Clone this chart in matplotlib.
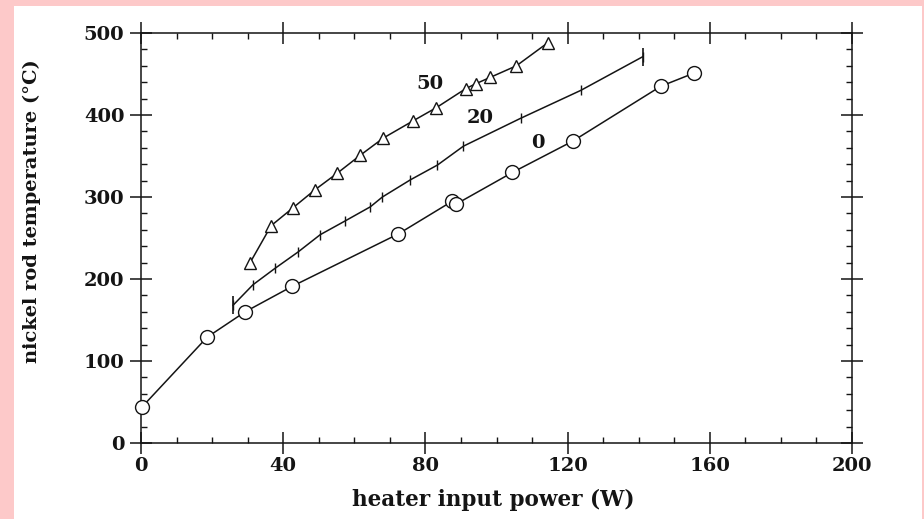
import numpy as np
import matplotlib
matplotlib.use("Agg")
import matplotlib.pyplot as plt
from matplotlib.patches import Rectangle
from matplotlib.ticker import MultipleLocator

# heater input power (W) vs nickel rod temperature (C), three series
x0 = [0.3, 18.6, 29.3, 42.5, 72.4, 87.6, 88.5, 104.5, 121.4, 146.2, 155.5]
y0 = [44, 129, 160, 191, 255, 295, 291, 330, 368, 435, 451]

x20 = [25.9, 31.5, 37.7, 44.2, 50.4, 57.5, 64.5, 67.9, 75.8, 83.4, 90.7, 106.8, 123.7, 141.1]
y20 = [168, 193, 213, 233, 254, 271, 288, 300, 321, 339, 362, 396, 430, 471]

x50 = [30.7, 36.6, 42.8, 49.0, 55.2, 61.7, 68.2, 76.6, 83.1, 91.3, 94.1, 98.3, 105.6, 114.4]
y50 = [220, 265, 287, 309, 329, 351, 372, 393, 409, 432, 438, 446, 460, 488]

series_labels = ["0", "20", "50"]
label_pos = [(111.5, 366), (95.5, 396), (81.4, 438)]

xticks = [0, 40, 80, 120, 160, 200]
yticks = [0, 100, 200, 300, 400, 500]

serif = ["DejaVu Serif"]
ink = "#141414"

fig = plt.figure(figsize=(9.24, 5.19), dpi=100, facecolor="#fdc9c9")
fig.patches.append(Rectangle((14 / 924, 0), 908 / 924, 513 / 519,
                             transform=fig.transFigure, facecolor="white",
                             edgecolor="none", zorder=-10))

ax = fig.add_axes([141 / 924, 76 / 519, 711 / 924, 410 / 519])
ax.set_facecolor("white")

ax.plot(x0, y0, "-", color=ink, lw=1.1, marker="o", ms=10, mfc="white",
        mec=ink, mew=1.0, clip_on=False, zorder=3)
ax.plot(x20, y20, "-", color=ink, lw=1.1, marker="|", ms=7, mew=1.0)
ax.plot([x20[0], x20[-1]], [y20[0], y20[-1]], "none", marker="|", ms=13,
        mec=ink, mew=1.2)
ax.plot(x50, y50, "-", color=ink, lw=1.1, marker="^", ms=8.5, mfc="white",
        mec=ink, mew=1.0)

for txt, (tx, ty) in zip(series_labels, label_pos):
    ax.text(tx, ty, txt, ha="center", va="center", fontsize=14,
            fontweight="bold", family=serif, color=ink)

ax.set_xlim(0, 200)
ax.set_ylim(0, 500)
ax.set_xticks(xticks)
ax.set_yticks(yticks)
ax.xaxis.set_minor_locator(MultipleLocator(10))
ax.yaxis.set_minor_locator(MultipleLocator(20))
ax.tick_params(which="major", direction="inout", length=16, width=1.1,
               top=True, right=True, colors=ink, pad=4)
ax.tick_params(which="minor", direction="in", length=4, width=1.0,
               top=True, right=True, colors=ink)
ax.tick_params(axis="x", which="major", pad=2)
for lab in ax.get_xticklabels() + ax.get_yticklabels():
    lab.set_family(serif)
    lab.set_fontweight("bold")
    lab.set_fontsize(14)
for sp in ax.spines.values():
    sp.set_linewidth(1.1)
    sp.set_color(ink)

fig.text(493 / 924, 1 - 500 / 519, "heater input power (W)", ha="center",
         va="center", fontsize=15.5, fontweight="bold", family=serif, color=ink)
fig.text(32 / 924, 1 - 211 / 519, "nickel rod temperature (°C)", ha="center",
         va="center", rotation=90, fontsize=14, fontweight="bold",
         family=serif, color=ink)

fig.savefig("out.png", dpi=100, facecolor=fig.get_facecolor())
